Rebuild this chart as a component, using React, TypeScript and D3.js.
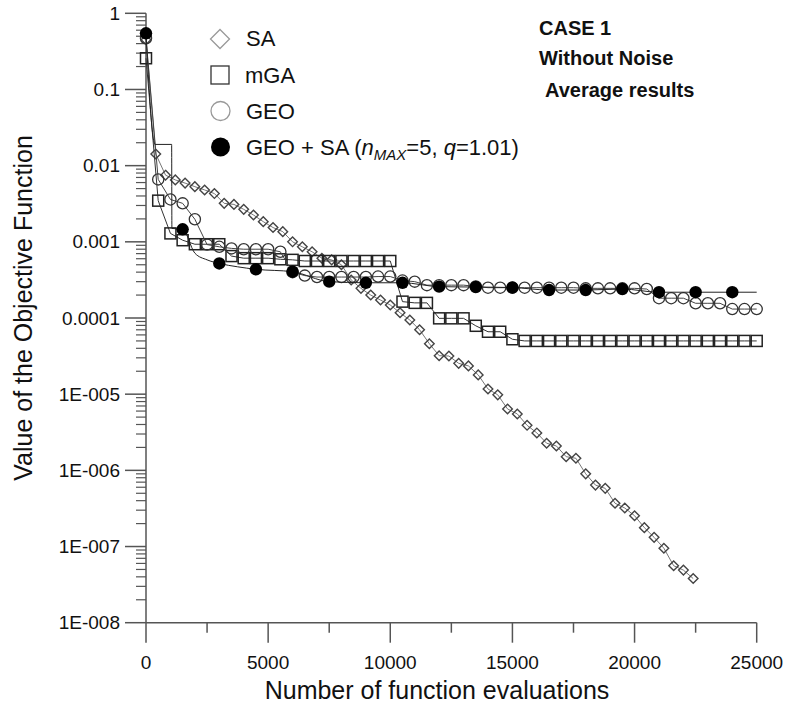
import React from 'react';
import * as d3 from 'd3';

const X_TICKS = [0, 5000, 10000, 15000, 20000, 25000];
const X_MINOR = [2500, 7500, 12500, 17500, 22500];
const Y_TICKS = [1, 0.1, 0.01, 0.001, 0.0001, 1e-5, 1e-6, 1e-7, 1e-8];
const Y_TICK_LABELS = ['1', '0.1', '0.01', '0.001', '0.0001', '1E-005', '1E-006', '1E-007', '1E-008'];

const SA_X = [0, 400, 800, 1200, 1600, 2000, 2400, 2800, 3200, 3600, 4000, 4400, 4800, 5200, 5600, 6000, 6400, 6800, 7200, 7600, 8000, 8400, 8800, 9200, 9600, 10000, 10400, 10800, 11200, 11600, 12000, 12400, 12800, 13200, 13600, 14000, 14400, 14800, 15200, 15600, 16000, 16400, 16800, 17200, 17600, 18000, 18400, 18800, 19200, 19600, 20000, 20400, 20800, 21200, 21600, 22000, 22400];
const SA_Y = [0.45, 0.0142, 0.0075, 0.0065, 0.0059, 0.0053, 0.0048, 0.0043, 0.0032, 0.0031, 0.00267, 0.00225, 0.00184, 0.00154, 0.00136, 0.001, 0.00086, 0.00074, 0.00061, 0.00058, 0.0005, 0.000316, 0.000245, 0.0002, 0.000172, 0.000148, 0.000117, 0.000094, 0.00007, 0.000046, 0.000032, 0.0000317, 0.0000254, 0.0000235, 0.0000179, 0.0000117, 0.0000098, 0.0000064, 0.0000055, 0.0000039, 0.0000031, 2.27e-6, 2.09e-6, 1.51e-6, 1.44e-6, 9.0e-7, 6.4e-7, 5.8e-7, 3.7e-7, 3.2e-7, 2.54e-7, 1.77e-7, 1.32e-7, 9.5e-8, 5.6e-8, 4.9e-8, 3.8e-8];

const EVALS_500 = [0, 500, 1000, 1500, 2000, 2500, 3000, 3500, 4000, 4500, 5000, 5500, 6000, 6500, 7000, 7500, 8000, 8500, 9000, 9500, 10000, 10500, 11000, 11500, 12000, 12500, 13000, 13500, 14000, 14500, 15000, 15500, 16000, 16500, 17000, 17500, 18000, 18500, 19000, 19500, 20000, 20500, 21000, 21500, 22000, 22500, 23000, 23500, 24000, 24500, 25000];

const MGA_Y = [0.257, 0.00347, 0.00129, 0.00105, 0.00093, 0.00093, 0.00093, 0.00065, 0.00061, 0.00061, 0.00061, 0.00059, 0.00058, 0.00056, 0.00056, 0.00056, 0.00056, 0.00056, 0.00056, 0.00056, 0.00056, 0.000164, 0.000158, 0.000158, 0.000099, 0.000099, 0.000099, 0.000079, 0.000066, 0.000066, 0.0000526, 0.00005, 0.00005, 0.00005, 0.00005, 0.00005, 0.00005, 0.00005, 0.00005, 0.00005, 0.00005, 0.00005, 0.00005, 0.00005, 0.00005, 0.00005, 0.00005, 0.00005, 0.00005, 0.00005, 0.00005];

const GEO_Y = [0.47, 0.0066, 0.0036, 0.0032, 0.00198, 0.00092, 0.00086, 0.00082, 0.0008, 0.0008, 0.0008, 0.00074, 0.0004, 0.00036, 0.000345, 0.000345, 0.000345, 0.000345, 0.000345, 0.00035, 0.00035, 0.00031, 0.0003, 0.00027, 0.00027, 0.00027, 0.00027, 0.00026, 0.00025, 0.00025, 0.00025, 0.00025, 0.00025, 0.00025, 0.00025, 0.00025, 0.000245, 0.000245, 0.000245, 0.000245, 0.000245, 0.00024, 0.000182, 0.000182, 0.000182, 0.000156, 0.000156, 0.000156, 0.000131, 0.000131, 0.000131];

const GEOSA_X = [0, 370, 1050, 1060, 1500, 2000, 2500, 3000, 3750, 4500, 6000, 7500, 9000, 10500, 12000, 13500, 15000, 16500, 18000, 19500, 21000, 22500, 24000, 25000];
const GEOSA_Y = [0.546, 0.019, 0.019, 0.0015, 0.00146, 0.00071, 0.00058, 0.00052, 0.00047, 0.000436, 0.000405, 0.0003, 0.00029, 0.00029, 0.000258, 0.000255, 0.000251, 0.000233, 0.000233, 0.00024, 0.000218, 0.000218, 0.000218, 0.000218];
const GEOSA_MARK_STEP = 1500;

type P = [number, number];

export default function App() {
  const W = 786, H = 703;
  const x = d3.scaleLinear().domain([0, 25000]).range([146, 756.7]);
  const y = d3.scaleLog().domain([1e-8, 1]).range([622.7, 13.3]);
  const lin = d3.line<P>().x(d => x(d[0])).y(d => y(d[1]));
  const smooth = d3.line<P>().x(d => x(d[0])).y(d => y(d[1])).curve(d3.curveMonotoneX);

  const sa: P[] = SA_X.map((v, i) => [v, SA_Y[i]]);
  const mga: P[] = EVALS_500.map((v, i) => [v, MGA_Y[i]]);
  const geo: P[] = EVALS_500.map((v, i) => [v, GEO_Y[i]]);
  const geosa: P[] = GEOSA_X.map((v, i) => [v, GEOSA_Y[i]]);
  const geosaMarks = geosa.filter(d => d[0] % GEOSA_MARK_STEP === 0);

  const font = "'Liberation Sans', Arial, Helvetica, sans-serif";
  const axisColor = '#555';
  const diamond = (cx: number, cy: number, r: number) =>
    `M${cx},${cy - r}L${cx + r},${cy}L${cx},${cy + r}L${cx - r},${cy}Z`;

  const x0 = x(0), xEnd = x(25000), yBot = y(1e-8), yTop = y(1);
  const minorY = y.ticks().filter(t => !Y_TICKS.some(m => Math.abs(Math.log10(t) - Math.log10(m)) < 1e-6));

  return (
    <svg width={W} height={H} style={{ position: 'absolute', left: 0, top: 0, background: '#fff' }} fontFamily={font}>
      <rect x={0} y={0} width={W} height={H} fill="#fff" />
      {/* Axes */}
      <g stroke={axisColor} strokeWidth={1.5} fill="none">
        <line x1={x0} y1={yTop} x2={x0} y2={yBot} />
        <line x1={x0} y1={yBot} x2={xEnd} y2={yBot} />
        {Y_TICKS.map(t => (
          <line key={'ym' + t} x1={x0 - 21} x2={x0} y1={y(t)} y2={y(t)} />
        ))}
        {minorY.map(t => (
          <line key={'yn' + t} x1={x0 - 10} x2={x0} y1={y(t)} y2={y(t)} strokeWidth={1.2} />
        ))}
        {X_TICKS.map(t => (
          <line key={'xm' + t} x1={x(t)} x2={x(t)} y1={yBot} y2={yBot + 20} />
        ))}
        {X_MINOR.map(t => (
          <line key={'xn' + t} x1={x(t)} x2={x(t)} y1={yBot} y2={yBot + 10} />
        ))}
      </g>
      {/* Tick labels */}
      <g fontSize={19} fill="#111">
        {Y_TICKS.map((t, i) => (
          <text key={'yl' + t} x={120} y={y(t)} dy="0.35em" textAnchor="end">{Y_TICK_LABELS[i]}</text>
        ))}
        {X_TICKS.map(t => (
          <text key={'xl' + t} x={x(t)} y={669} textAnchor="middle">{t}</text>
        ))}
      </g>
      {/* Axis titles */}
      <text x={437} y={699} fontSize={25} textAnchor="middle" fill="#111">Number of function evaluations</text>
      <text transform="translate(32,308) rotate(-90)" fontSize={25} textAnchor="middle" fill="#111">Value of the Objective Function</text>

      {/* SA */}
      <path d={lin(sa) || ''} fill="none" stroke="#777" strokeWidth={1} />
      {sa.map((d, i) => (
        <path key={'sa' + i} d={diamond(x(d[0]), y(d[1]), 4.8)} fill="none" stroke="#444" strokeWidth={1.4} />
      ))}
      {/* mGA */}
      <path d={lin(mga) || ''} fill="none" stroke="#333" strokeWidth={1} />
      {mga.map((d, i) => (
        <rect key={'mga' + i} x={x(d[0]) - 5.5} y={y(d[1]) - 5.5} width={11} height={11} fill="none" stroke="#222" strokeWidth={1.5} />
      ))}
      {/* GEO */}
      <path d={lin(geo) || ''} fill="none" stroke="#444" strokeWidth={1} />
      {geo.map((d, i) => (
        <circle key={'geo' + i} cx={x(d[0])} cy={y(d[1])} r={5.6} fill="none" stroke="#333" strokeWidth={1.3} />
      ))}
      {/* GEO + SA */}
      <path d={smooth(geosa) || ''} fill="none" stroke="#222" strokeWidth={1} />
      {geosaMarks.map((d, i) => (
        <circle key={'gs' + i} cx={x(d[0])} cy={y(d[1])} r={6.2} fill="#000" />
      ))}

      {/* Legend */}
      <g fontSize={22} fill="#111">
        <path d={diamond(220, 39, 9.5)} fill="none" stroke="#999" strokeWidth={1.3} />
        <text x={246} y={46}>SA</text>
        <rect x={211} y={66} width={18} height={18} fill="none" stroke="#333" strokeWidth={1.3} />
        <text x={245} y={83}>mGA</text>
        <circle cx={220.5} cy={111} r={9.5} fill="none" stroke="#999" strokeWidth={1.3} />
        <text x={246} y={119}>GEO</text>
        <circle cx={220.5} cy={147} r={9.5} fill="#000" />
        <text x={246} y={155}>
          GEO + SA (<tspan fontStyle="italic">n</tspan>
          <tspan fontStyle="italic" fontSize={15} dy={5}>MAX</tspan>
          <tspan dy={-5}>=5, </tspan>
          <tspan fontStyle="italic">q</tspan>
          <tspan>=1.01)</tspan>
        </text>
      </g>

      {/* Annotation */}
      <g fontSize={20} fontWeight="bold" fill="#111">
        <text x={539} y={35}>CASE 1</text>
        <text x={539} y={65}>Without Noise</text>
        <text x={545} y={97}>Average results</text>
      </g>
    </svg>
  );
}
